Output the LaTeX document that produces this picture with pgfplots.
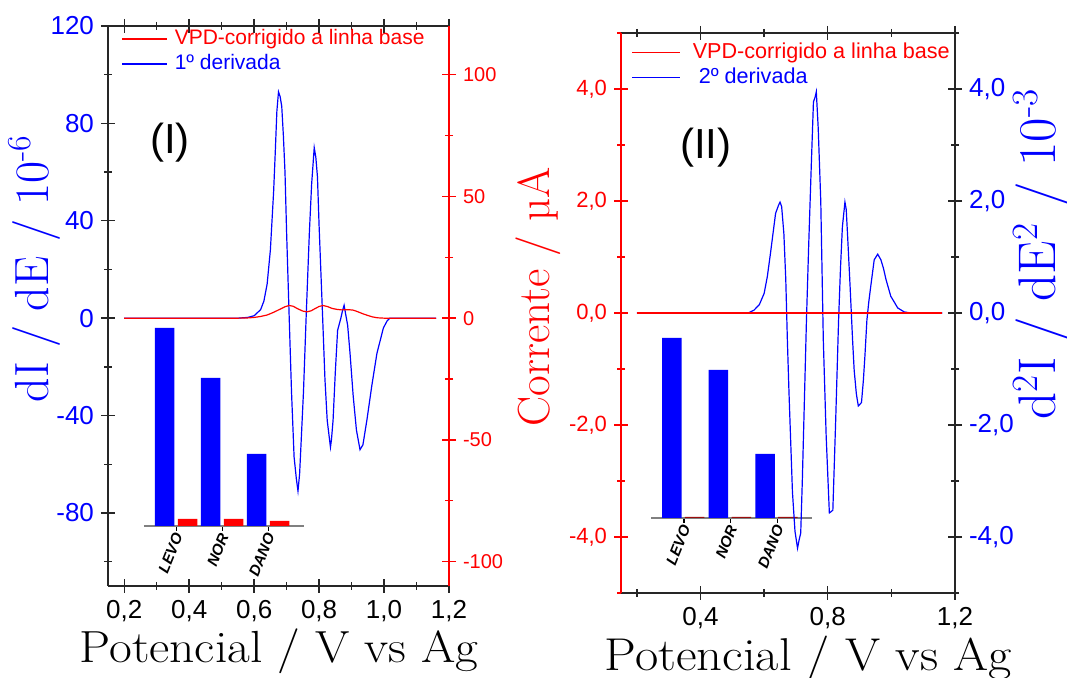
\documentclass[border=0pt]{standalone}
\usepackage{pgfplots}
\pgfplotsset{compat=1.18}
\usepackage{fontspec}
\setmainfont{Liberation Sans}
\newfontfamily\lmr{Latin Modern Roman}
\definecolor{dkred}{rgb}{0.6,0.05,0.05}
\pgfplotsset{
  base/.style={scale only axis, clip=false, anchor=south west,
    tick align=center, major tick length=7pt, minor tick length=4pt,
    every tick/.style={line width=0.7pt}},
  inset/.style={scale only axis, clip=false, anchor=south west, width=80pt, height=100pt,
    ymin=0, ymax=200, axis y line=none, axis x line*=bottom,
    x axis line style={gray, line width=0.8pt},
    xtick={0,1,2}, xticklabels={LEVO,NOR,DANO},
    xtick align=outside, major tick length=2.5pt, xtick style={black, line width=0.6pt},
    xticklabel style={rotate=68, anchor=east, xshift=2.5pt, yshift=-1.5pt,
      font=\fontsize{7.6}{9}\selectfont\bfseries\itshape}},
}
\begin{document}
\begin{tikzpicture}
\useasboundingbox (0,0) rectangle (533.5pt,339pt);

% ---------- inset left
\begin{axis}[inset, at={(72pt,76pt)}, xmin=-0.70, xmax=2.78]
\addplot[ybar, bar width=9.75pt, bar shift=0pt, fill=blue, draw=none] coordinates {(-0.25,198) (0.75,148) (1.75,72)};
\addplot[ybar, bar width=9.75pt, bar shift=0pt, fill=red, draw=none] coordinates {(0.25,7) (1.25,7) (2.25,5)};
\end{axis}

% ---------- inset right
\begin{axis}[inset, at={(325.5pt,80pt)}, width=80.5pt, xmin=-0.71, xmax=2.75]
\addplot[ybar, bar width=9.75pt, bar shift=0pt, fill=blue, draw=none] coordinates {(-0.26,180) (0.74,148) (1.74,64)};
\addplot[ybar, bar width=9.75pt, bar shift=0pt, fill=dkred, draw=none] coordinates {(0.23,1.2) (1.23,1.2) (2.23,1.2)};
\end{axis}

% ---------- left panel, left axis (blue data)
\begin{axis}[base, at={(54pt,46pt)}, width=170.5pt, height=280pt,
  xmin=0.15, xmax=1.2, ymin=-110, ymax=120,
  axis x line*=box, axis y line*=left,
  axis line style={black!85, line width=0.8pt},
  xtick={0.2,0.4,0.6,0.8,1.0,1.2}, xticklabels={{0,2},{0,4},{0,6},{0,8},{1,0},{1,2}},
  minor xtick={0.3,0.5,0.7,0.9,1.1},
  xtick pos=both, xticklabel pos=left,
  ytick={-80,-40,0,40,80,120}, yticklabels={-80,-40,0,40,80,120},
  minor ytick={-100,-60,-20,20,60,100},
  ytick pos=left, yticklabel pos=left,
  tick style={black!85},
  yticklabel style={text=blue, font=\fontsize{13}{15}\selectfont},
  xticklabel style={font=\fontsize{13}{15}\selectfont},
  legend style={at={(axis description cs:0.038,1.0)}, anchor=north west, draw=none, fill=none,
    font=\fontsize{10.5}{12}\selectfont, inner sep=0pt, row sep=0pt,
    nodes={inner sep=1pt, text height=8pt, text depth=2.5pt}},
  legend cell align=left,
  legend image code/.code={\draw[#1, line width=0.8pt] (0pt,0pt) -- (22.5pt,0pt); \path (25pt,0pt);},
]
\addlegendimage{red}
\addlegendentry{\textcolor{red}{VPD-corrigido a linha base}}
\addplot[blue, line width=0.6pt] coordinates {
(0.20,0) (0.55,0) (0.58,0.3) (0.60,1) (0.62,3.5) (0.63,7) (0.64,14) (0.65,28) (0.66,52)
(0.665,68) (0.67,85) (0.675,93) (0.68,91) (0.685,87) (0.69,75) (0.695,60) (0.70,35)
(0.708,0) (0.715,-30) (0.723,-57) (0.73,-66) (0.735,-71) (0.74,-64) (0.745,-50) (0.752,-30)
(0.76,0) (0.77,35) (0.777,55) (0.785,70) (0.79,66) (0.795,58) (0.80,38) (0.811,0)
(0.818,-25) (0.825,-42) (0.835,-53) (0.838,-50) (0.843,-42) (0.85,-22) (0.857,-5) (0.867,0)
(0.872,3) (0.877,5.3) (0.88,3) (0.884,0) (0.888,-3) (0.895,-14) (0.905,-32) (0.915,-46)
(0.926,-54) (0.935,-52) (0.947,-42) (0.962,-28) (0.978,-14.5) (0.998,-4) (1.01,-1)
(1.018,0) (1.16,0)};
\addlegendentry{\textcolor{blue}{1º derivada}}
\node[font=\fontsize{21}{24}\selectfont] at (axis description cs:0.182,0.791) {(I)};
\node[rotate=90, text=blue, font=\lmr\fontsize{24}{28}\selectfont] at (axis description cs:-0.217,0.567) {dI / dE / 10\textsuperscript{-6}};
\node[font=\lmr\fontsize{22.5}{26}\selectfont] at (axis description cs:0.501,-0.116) {\scalebox{1.1}[1]{Potencial / V vs Ag}};
\end{axis}

% ---------- left panel, right axis (red data)
\begin{axis}[base, at={(54pt,46pt)}, width=170.5pt, height=280pt,
  xmin=0.15, xmax=1.2, ymin=-110, ymax=120,
  axis x line=none, axis y line*=right,
  axis line style={red, line width=0.8pt},
  ytick={-100,-50,0,50,100}, yticklabels={-100,-50,0,50,100},
  minor ytick={-75,-25,25,75},
  ytick pos=right, yticklabel pos=right,
  tick style={red},
  yticklabel style={text=red, font=\fontsize{10}{12}\selectfont},
]
\addplot[red, line width=0.6pt] coordinates {
(0.2,0) (0.55,0) (0.58,0.1) (0.60,0.3) (0.62,0.7) (0.64,1.3) (0.66,2.4) (0.68,3.7) (0.695,4.7)
(0.708,5.2) (0.72,4.9) (0.735,3.8) (0.75,2.9) (0.763,2.6) (0.775,3.0) (0.79,4.1) (0.80,4.8)
(0.812,5.2) (0.825,4.8) (0.84,4.0) (0.855,3.6) (0.87,3.4) (0.89,3.5) (0.905,3.3) (0.92,2.6)
(0.935,1.8) (0.95,1.1) (0.965,0.5) (0.98,0.15) (1.0,0) (1.16,0)};
\node[rotate=90, text=red, font=\lmr\fontsize{22.5}{26}\selectfont] at (axis description cs:1.261,0.516) {Corrente / µA};
\end{axis}

% ---------- right panel, right axis (blue data)
\begin{axis}[base, at={(310.5pt,42.5pt)}, width=167pt, height=280pt,
  xmin=0.15, xmax=1.2, ymin=-5, ymax=5,
  axis x line=none, axis y line*=right,
  axis line style={black!85, line width=0.8pt},
  ytick={-4,-2,0,2,4}, yticklabels={{-4,0},{-2,0},{0,0},{2,0},{4,0}},
  minor ytick={-5,-3,-1,1,3,5},
  ytick pos=right, yticklabel pos=right,
  tick style={black!85},
  yticklabel style={text=blue, font=\fontsize{13}{15}\selectfont},
]
\addplot[blue, line width=0.6pt] coordinates {
(0.2,0) (0.55,0) (0.568,0.05) (0.585,0.15) (0.6,0.35) (0.61,0.65) (0.62,1.07) (0.636,1.78)
(0.645,1.92) (0.65,1.98) (0.655,1.9) (0.662,1.42) (0.668,0.6) (0.673,-0.48) (0.678,-1.4)
(0.689,-3.2) (0.697,-3.9) (0.705,-4.2) (0.71,-4.05) (0.715,-3.93) (0.72,-3.0) (0.725,-1.9)
(0.733,-0.13) (0.74,1.2) (0.748,2.6) (0.755,3.77) (0.76,3.85) (0.764,3.95) (0.77,3.3)
(0.778,2.0) (0.786,-0.48) (0.795,-2.2) (0.805,-3.57) (0.81,-3.55) (0.816,-3.52) (0.825,-1.9)
(0.834,-0.13) (0.84,0.8) (0.846,1.54) (0.854,1.98) (0.858,1.85) (0.862,1.42) (0.87,0.5)
(0.878,-0.48) (0.883,-1.02) (0.89,-1.45) (0.896,-1.66) (0.906,-1.6) (0.912,-1.2) (0.917,-0.75)
(0.923,-0.13) (0.929,0.2) (0.935,0.47) (0.946,0.95) (0.957,1.05) (0.967,0.95) (0.975,0.8)
(0.983,0.6) (0.998,0.3) (1.02,0.09) (1.04,0.02) (1.06,0) (1.16,0)};
\node[rotate=90, text=blue, font=\lmr\fontsize{26.5}{30}\selectfont] at (axis description cs:1.257,0.605) {d\textsuperscript{2}I / dE\textsuperscript{2} / 10\textsuperscript{-3}};
\end{axis}

% ---------- right panel, left axis (red data)
\begin{axis}[base, at={(310.5pt,42.5pt)}, width=167pt, height=280pt,
  xmin=0.15, xmax=1.2, ymin=-5, ymax=5,
  axis x line*=box, axis y line*=left,
  x axis line style={black!85, line width=0.8pt},
  y axis line style={red, line width=0.8pt},
  xtick={0.4,0.8,1.2}, xticklabels={{0,4},{0,8},{1,2}},
  minor xtick={0.2,0.6,1.0},
  xtick pos=both, xticklabel pos=left,
  ytick={-4,-2,0,2,4}, yticklabels={{-4,0},{-2,0},{0,0},{2,0},{4,0}},
  minor ytick={-5,-3,-1,1,3,5},
  ytick pos=left, yticklabel pos=left,
  xtick style={black!85}, ytick style={red},
  yticklabel style={text=red, font=\fontsize{11}{13}\selectfont},
  xticklabel style={font=\fontsize{13}{15}\selectfont},
  legend style={at={(axis description cs:0.030,0.988)}, anchor=north west, draw=none, fill=none,
    font=\fontsize{10.8}{12}\selectfont, inner sep=0pt, row sep=0pt,
    nodes={inner sep=1pt, text height=8pt, text depth=2.5pt}},
  legend cell align=left,
  legend image code/.code={\draw[#1, line width=0.8pt] (0pt,0pt) -- (24pt,0pt); \path (29pt,0pt);},
]
\addplot[red, line width=0.6pt] coordinates {(0.2,0) (1.16,0)};
\addlegendentry{\textcolor{red}{VPD-corrigido a linha base}}
\addlegendimage{blue}
\addlegendentry{\textcolor{blue}{\ 2º derivada}}
\node[font=\fontsize{21}{24}\selectfont] at (axis description cs:0.254,0.796) {(II)};
\node[font=\lmr\fontsize{23}{26}\selectfont] at (axis description cs:0.561,-0.117) {\scalebox{1.1}[1]{Potencial / V vs Ag}};
\end{axis}
\end{tikzpicture}
\end{document}
